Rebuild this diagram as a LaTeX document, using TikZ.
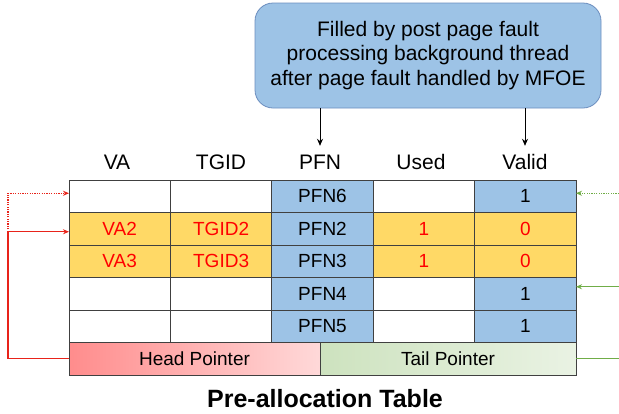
\documentclass[tikz,border=0pt]{standalone}
\usepackage{fontspec}
\setmainfont{Liberation Sans}
\usetikzlibrary{arrows.meta,positioning}
\definecolor{cellblue}{HTML}{9DC3E6}
\definecolor{cellgold}{HTML}{FFD966}
\definecolor{gridgray}{HTML}{404040}
\definecolor{boxedge}{HTML}{6C8EBF}
\definecolor{ptrred}{HTML}{E8231A}
\definecolor{ptrgreen}{HTML}{70AD47}
\tikzset{
  cell/.style={draw=gridgray,line width=.8pt,minimum width=101.4pt,minimum height=32.5pt,
    inner sep=0pt,outer sep=0pt,font=\fontsize{19}{22}\selectfont},
  bluecell/.style={cell,fill=cellblue},
  goldcell/.style={cell,fill=cellgold,text=red},
  header/.style={minimum height=32pt,inner sep=0pt,font=\fontsize{21}{24}\selectfont},
  infobox/.style={draw=boxedge,line width=.8pt,fill=cellblue,rounded corners=18pt,
    minimum width=346pt,minimum height=105pt,align=center,font=\fontsize{21}{24.5}\selectfont},
  fillarrow/.style={line width=.8pt,-{Stealth[length=7pt,width=6pt]}},
  redline/.style={draw=ptrred,line width=1.2pt,-{Stealth[length=6pt,width=5pt]}},
  reddot/.style={redline,dash pattern=on 1.2pt off 1.2pt},
  greenline/.style={draw=ptrgreen,line width=1.2pt,-{Stealth[length=6pt,width=5pt]}},
  greendot/.style={greenline,dash pattern=on 1.2pt off 1.2pt}
}
\begin{document}
\begin{tikzpicture}[x=1pt,y=-1pt]
\useasboundingbox (0,0) rectangle (619,413);
% note box
\node[infobox] (note) at (428,55.5) {Filled by post page fault\\processing background thread\\after page fault handled by MFOE};
% column headers
\node[header] (hva) at (117,162) {VA};
\node[header] (htgid) at (221,162) {TGID};
\node[header] (hpfn) at (320,162) {PFN};
\node[header] (hused) at (421,162) {Used};
\node[header] (hvalid) at (525,162) {Valid};
\draw[fillarrow] (note.south -| hpfn) -- (hpfn.north);
\draw[fillarrow] (note.south -| hvalid) -- (hvalid.north);
% row 1
\node[cell] (va1) at (119.7,196.25) {};
\node[cell] (tg1) at (221.1,196.25) {};
\node[bluecell] (pfn1) at (322.5,196.25) {PFN6};
\node[cell] (used1) at (423.9,196.25) {};
\node[bluecell] (valid1) at (525.3,196.25) {1};
% row 2
\node[goldcell] (va2) at (119.7,228.75) {VA2};
\node[goldcell] (tg2) at (221.1,228.75) {TGID2};
\node[bluecell] (pfn2) at (322.5,228.75) {PFN2};
\node[goldcell] (used2) at (423.9,228.75) {1};
\node[goldcell] (valid2) at (525.3,228.75) {0};
% row 3
\node[goldcell] (va3) at (119.7,261.25) {VA3};
\node[goldcell] (tg3) at (221.1,261.25) {TGID3};
\node[bluecell] (pfn3) at (322.5,261.25) {PFN3};
\node[goldcell] (used3) at (423.9,261.25) {1};
\node[goldcell] (valid3) at (525.3,261.25) {0};
% row 4
\node[cell] (va4) at (119.7,293.75) {};
\node[cell] (tg4) at (221.1,293.75) {};
\node[bluecell] (pfn4) at (322.5,293.75) {PFN4};
\node[cell] (used4) at (423.9,293.75) {};
\node[bluecell] (valid4) at (525.3,293.75) {1};
% row 5
\node[cell] (va5) at (119.7,326.25) {};
\node[cell] (tg5) at (221.1,326.25) {};
\node[bluecell] (pfn5) at (322.5,326.25) {PFN5};
\node[cell] (used5) at (423.9,326.25) {};
\node[bluecell] (valid5) at (525.3,326.25) {1};
% pointers
\node[cell,minimum width=251pt,left color=red!45,right color=red!15] (head) at (194.5,358.75) {Head Pointer};
\node[cell,minimum width=256pt,left color=ptrgreen!35,right color=ptrgreen!15] (tail) at (448,358.75) {Tail Pointer};
% head pointer links
\draw[redline] (head.west) -- ++(-61,0) |- ([yshift=-3pt]va2.west);
\draw[reddot] ([xshift=-61pt,yshift=-3pt]va2.west) |- ([yshift=3pt]va1.west);
% tail pointer links
\draw[greendot] ([xshift=43pt,yshift=3pt]valid1.east) -- ([yshift=3pt]valid1.east);
\draw[greenline] ([xshift=43pt,yshift=7pt]valid4.east) -- ([yshift=7pt]valid4.east);
\draw[draw=ptrgreen,line width=1.2pt] (tail.east) -- ++(43,0);
% caption
\node[anchor=base,font=\bfseries\fontsize{25}{30}\selectfont] (title) at (325,407) {Pre-allocation Table};
\end{tikzpicture}
\end{document}
